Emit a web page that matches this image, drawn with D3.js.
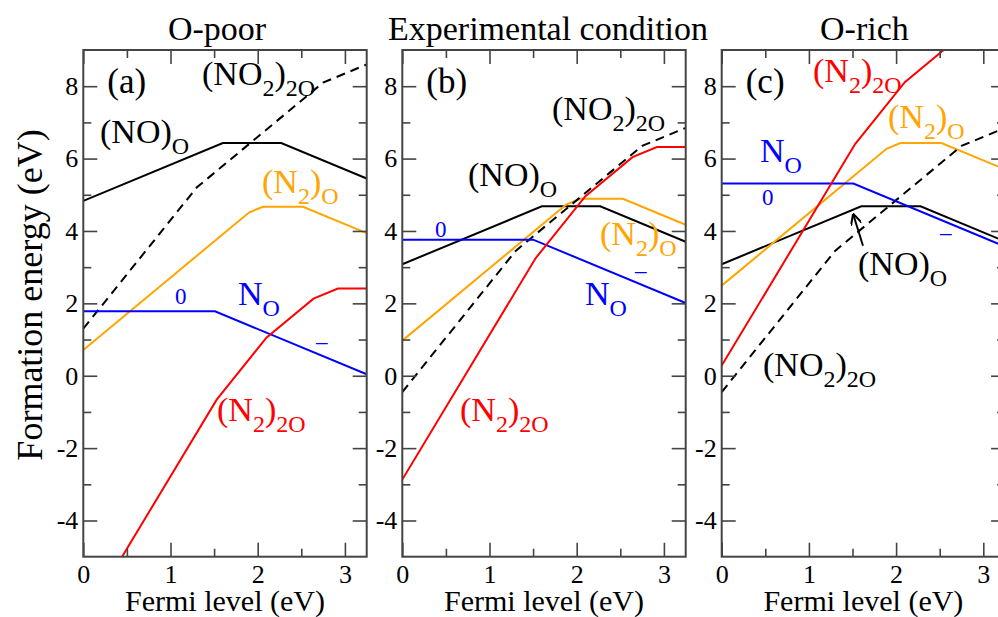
<!DOCTYPE html>
<html>
<head>
<meta charset="utf-8">
<script src="https://cdn.jsdelivr.net/npm/d3@7"></script>
<style>
  body { margin: 0; background: #fff; }
  text { font-family: "Liberation Serif", "DejaVu Serif", serif; }
</style>
</head>
<body>
<div id="chart"></div>
<script>
// Layout
const width = 998;
const height = 617;
const panelW = 283.4;
const plotTop = 50, plotBottom = 556.7;
const panelLefts = [83.3, 402.3, 721.7];
const serif = '"Liberation Serif", "DejaVu Serif", serif';

// x range of the Fermi level and the energy axis
const xDomain = [0, 3.25];
const yDomain = [-5, 9];
const xMajor = [0, 1, 2, 3];
const xMinor = [0.5, 1.5, 2.5];
const yMajor = [-4, -2, 0, 2, 4, 6, 8];
const yMinor = [-3, -1, 1, 3, 5, 7];

const titles = ["O-poor", "Experimental condition", "O-rich"];
const titleShift = [-8, 4, 1];
const panelTags = ["(a)", "(b)", "(c)"];

// Formation energy kink points [Fermi level, energy] per defect and panel
const noO_a   = [[0, 4.83], [1.6, 6.43], [2.27, 6.43], [3.25, 5.45]];
const n2O_a   = [[0, 0.71], [1.9, 4.51], [2.06, 4.67], [2.52, 4.67], [3.25, 3.94]];
const no22O_a = [[0, 1.3], [1.3, 5.2], [2.75, 8.1], [3.25, 8.6]];
const nO_a    = [[0, 1.78], [1.51, 1.78], [3.25, 0.04]];
const n22O_a  = [[0, -6.78], [1.53, -0.66], [2.1, 1.05], [2.64, 2.13], [2.92, 2.41], [3.25, 2.41]];

const noO_b   = [[0, 3.08], [1.6, 4.68], [2.27, 4.68], [3.25, 3.7]];
const n2O_b   = [[0, 0.97], [1.88, 4.73], [2.04, 4.89], [2.53, 4.89], [3.25, 4.17]];
const no22O_b = [[0, -0.45], [1.3, 3.45], [2.75, 6.35], [3.25, 6.85]];
const nO_b    = [[0, 3.76], [1.5, 3.76], [3.25, 2.01]];
const n22O_b  = [[0, -2.87], [1.53, 3.25], [2.1, 4.96], [2.64, 6.04], [2.92, 6.32], [3.25, 6.32]];

const noO_c   = [[0, 3.08], [1.6, 4.68], [2.28, 4.68], [3.25, 3.71]];
const n2O_c   = [[0, 2.49], [1.89, 6.27], [2.05, 6.43], [2.52, 6.43], [3.25, 5.7]];
const no22O_c = [[0, -0.45], [1.3, 3.45], [2.75, 6.35], [3.25, 6.85]];
const nO_c    = [[0, 5.31], [1.51, 5.31], [3.25, 3.57]];
const n22O_c  = [[0, 0.28], [1.53, 6.4], [2.1, 8.11], [2.64, 9.19], [2.92, 9.47], [3.25, 9.47]];

const panelSeries = [
    [noO_a, n2O_a, no22O_a, nO_a, n22O_a],
    [noO_b, n2O_b, no22O_b, nO_b, n22O_b],
    [noO_c, n2O_c, no22O_c, nO_c, n22O_c]
];
const seriesColor = ["#000000", "#ffa500", "#000000", "#0000ff", "#ff0000"];
const seriesDash  = [null, null, "9,6", null, null];

// Labels: [x, y, color, parts] where parts are [text, subscript?]
const NO_O = [["(NO)", 0], ["O", 1]];
const N2_O = [["(N", 0], ["2", 1], [")", 0], ["O", 1]];
const NO2_2O = [["(NO", 0], ["2", 1], [")", 0], ["2O", 1]];
const N2_2O = [["(N", 0], ["2", 1], [")", 0], ["2O", 1]];
const N_O = [["N", 0], ["O", 1]];

const labels = [
    [202, 85, "#000", NO2_2O], [100, 143, "#000", NO_O], [262, 193, "#ffa500", N2_O],
    [238, 305, "#0000ff", N_O], [217, 421, "#ff0000", N2_2O],
    [552, 120, "#000", NO2_2O], [468, 186, "#000", NO_O], [600, 245, "#ffa500", N2_O],
    [585, 305, "#0000ff", N_O], [460, 421, "#ff0000", N2_2O],
    [813, 82, "#ff0000", N2_2O], [888, 128, "#ffa500", N2_O], [760, 162, "#0000ff", N_O],
    [858, 275, "#000", NO_O], [763, 376, "#000", NO2_2O]
];
// charge state marks
const chargeLabels = [
    [175, 304, "0"], [316, 349, "\u2013"],
    [435, 237, "0"], [635, 278, "\u2013"],
    [762, 205, "0"], [940, 240, "\u2013"]
];

const svg = d3.select("#chart")
    .append("svg")
    .attr("width", width)
    .attr("height", height);

const x = d3.scaleLinear().domain(xDomain).range([0, panelW]);
const y = d3.scaleLinear().domain(yDomain).range([plotBottom, plotTop]);

const line = d3.line().x(d => x(d[0])).y(d => y(d[1]));

svg.append("defs").append("marker")
    .attr("id", "arrow")
    .attr("viewBox", "0 0 10 10")
    .attr("refX", 9).attr("refY", 5)
    .attr("markerWidth", 11).attr("markerHeight", 11)
    .attr("markerUnits", "userSpaceOnUse")
    .attr("orient", "auto")
    .append("path")
    .attr("d", "M0,0 L10,5 L0,10")
    .attr("fill", "none")
    .attr("stroke", "#000")
    .attr("stroke-width", 1.8);

panelLefts.forEach((left, p) => {
    const g = svg.append("g").attr("transform", `translate(${left},0)`);

    g.append("clipPath").attr("id", "clip" + p)
        .append("rect")
        .attr("x", 0).attr("y", plotTop)
        .attr("width", panelW).attr("height", plotBottom - plotTop);

    // Data lines
    const plot = g.append("g").attr("clip-path", `url(#clip${p})`);
    panelSeries[p].forEach((s, i) => {
        plot.append("path")
            .datum(s)
            .attr("d", line)
            .attr("fill", "none")
            .attr("stroke", seriesColor[i])
            .attr("stroke-width", 2)
            .attr("stroke-dasharray", seriesDash[i]);
    });

    // Axes, ticks inward; plain hyphen for negatives like the original
    const fmt = d => String(d);
    const axes = [
        d3.axisBottom(x).tickValues(xMajor).tickSize(-14).tickPadding(8).tickFormat(fmt),
        d3.axisBottom(x).tickValues(xMinor).tickSize(-8).tickFormat(""),
        d3.axisTop(x).tickValues(xMajor).tickSize(-14).tickFormat(""),
        d3.axisTop(x).tickValues(xMinor).tickSize(-8).tickFormat(""),
        d3.axisLeft(y).tickValues(yMajor).tickSize(-14).tickPadding(5).tickFormat(fmt),
        d3.axisLeft(y).tickValues(yMinor).tickSize(-8).tickFormat(""),
        d3.axisRight(y).tickValues(yMajor).tickSize(-14).tickFormat(""),
        d3.axisRight(y).tickValues(yMinor).tickSize(-8).tickFormat("")
    ];
    const pos = ["0," + plotBottom, "0," + plotBottom, "0," + plotTop, "0," + plotTop, "0,0", "0,0", panelW + ",0", panelW + ",0"];
    axes.forEach((a, i) => {
        const ag = g.append("g").attr("transform", `translate(${pos[i]})`).call(a)
            .attr("font-family", serif);
        ag.select(".domain").remove();
        ag.selectAll("line").attr("stroke", "#444").attr("stroke-width", 1.6);
        ag.selectAll("text")
            .attr("fill", "#000")
            .style("font-size", "26px")
            .style("font-family", serif);
    });

    g.append("rect")
        .attr("x", 0).attr("y", plotTop)
        .attr("width", panelW).attr("height", plotBottom - plotTop)
        .attr("fill", "none")
        .attr("stroke", "#444")
        .attr("stroke-width", 2);

    g.append("text")
        .attr("x", panelW / 2 + titleShift[p]).attr("y", 40)
        .attr("text-anchor", "middle")
        .style("font-size", "34px")
        .text(titles[p]);

    g.append("text")
        .attr("x", panelW / 2).attr("y", 611)
        .attr("text-anchor", "middle")
        .style("font-size", "30px")
        .text("Fermi level (eV)");

    g.append("text")
        .attr("x", 24).attr("y", 93)
        .style("font-size", "35px")
        .text(panelTags[p]);

    if (p === 2) {
        g.append("line")
            .attr("x1", x(1.62)).attr("y1", y(3.59))
            .attr("x2", x(1.51)).attr("y2", y(4.45))
            .attr("stroke", "#000")
            .attr("stroke-width", 2)
            .attr("marker-end", "url(#arrow)");
    }
});

// y axis title
svg.append("text")
    .attr("transform", "translate(42,295) rotate(-90)")
    .attr("text-anchor", "middle")
    .style("font-size", "36px")
    .text("Formation energy (eV)");

// Defect labels with subscripts
labels.forEach(([lx, ly, color, parts]) => {
    const t = svg.append("text")
        .attr("x", lx).attr("y", ly)
        .attr("fill", color)
        .style("font-size", "34px");
    parts.forEach(([s, sub], i) => {
        const prevSub = i > 0 && parts[i - 1][1];
        t.append("tspan")
            .attr("dy", sub && !prevSub ? 11 : (!sub && prevSub ? -11 : 0))
            .style("font-size", sub ? "24px" : "34px")
            .text(s);
    });
});

chargeLabels.forEach(([lx, ly, s]) => {
    svg.append("text")
        .attr("x", lx).attr("y", ly)
        .attr("fill", "#0000ff")
        .style("font-size", "23px")
        .text(s);
});
</script>
</body>
</html>
